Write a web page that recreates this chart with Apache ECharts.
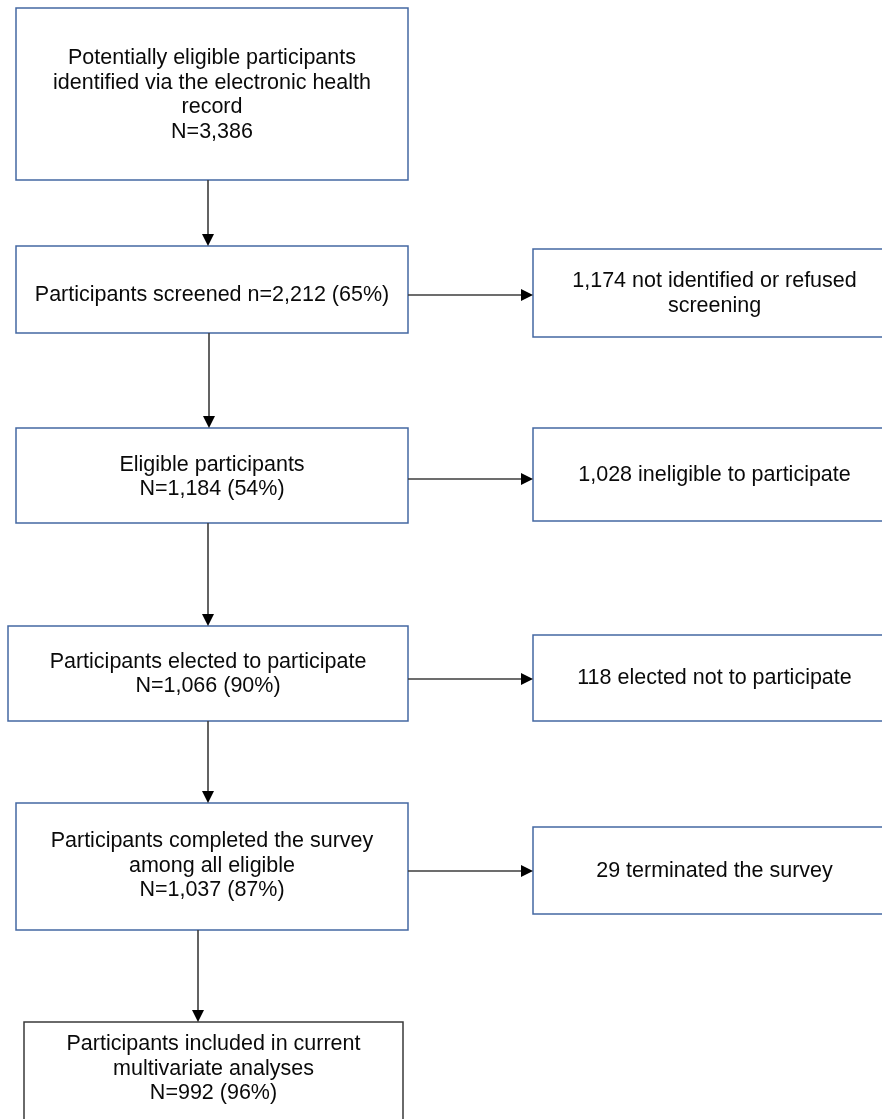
<!DOCTYPE html>
<html>
<head>
<meta charset="utf-8">
<script src="https://cdn.jsdelivr.net/npm/echarts@6/dist/echarts.min.js"></script>
<style>
  html, body { margin: 0; padding: 0; background: #ffffff; }
  #chart { width: 882px; height: 1119px; }
</style>
</head>
<body>
<div id="chart"></div>
<script>
// ---- data ----
const mainTitles = [
  "Potentially eligible participants\nidentified via the electronic health\nrecord",
  "Participants screened",
  "Eligible participants",
  "Participants elected to participate",
  "Participants completed the survey\namong all eligible",
  "Participants included in current\nmultivariate analyses"
];
const mainN = [3386, 2212, 1184, 1066, 1037, 992];
const mainNLetter = ["N", "n", "N", "N", "N", "N"];
const mainPct = [null, 65, 54, 90, 87, 96];
const sideN = [1174, 1028, 118, 29];
const sideText = [
  "not identified or refused\nscreening",
  "ineligible to participate",
  "elected not to participate",
  "terminated the survey"
];

// ---- layout (pixel units on hidden axes) ----
const mainBoxes = [
  [16, 8, 408, 180],
  [16, 246, 408, 333],
  [16, 428, 408, 523],
  [8, 626, 408, 721],
  [16, 803, 408, 930],
  [24, 1022, 403, 1130]
];
const mainTextY = [95, 295, 477, 674, 866, 1069];
const mainInline = [false, true, false, false, false, false];
const sideBoxes = [
  [533, 249, 896, 337],
  [533, 428, 896, 521],
  [533, 635, 896, 721],
  [533, 827, 896, 914]
];
const vArrowX = [208, 209, 208, 208, 198];
const hArrowY = [295, 479, 679, 871];

function fmt(n) { return n.toLocaleString('en-US'); }

function mainLabel(i) {
  let cnt = mainNLetter[i] + "=" + fmt(mainN[i]) + (mainPct[i] != null ? " (" + mainPct[i] + "%)" : "");
  return mainTitles[i] + (mainInline[i] ? " " : "\n") + cnt;
}
function sideLabel(i) {
  return fmt(sideN[i]) + " " + sideText[i];
}

const boxData = [];
mainBoxes.forEach((b, i) => boxData.push([b[0], b[1], b[2], b[3], mainTextY[i], mainLabel(i), i === 5 ? 1 : 0]));
sideBoxes.forEach((b, i) => boxData.push([b[0], b[1], b[2], b[3], (b[1] + b[3]) / 2 + 0.5, sideLabel(i), 0]));

// arrows: [x1, y1, x2, y2]
const arrowData = [];
for (let i = 0; i < vArrowX.length; i++) {
  arrowData.push([vArrowX[i], mainBoxes[i][3], vArrowX[i], mainBoxes[i + 1][1]]);
}
for (let i = 0; i < hArrowY.length; i++) {
  arrowData.push([mainBoxes[i + 1][2], hArrowY[i], sideBoxes[i][0], hArrowY[i]]);
}

const FONT = '"Liberation Sans", Arial, sans-serif';

const chart = echarts.init(document.getElementById('chart'), null, { renderer: 'canvas' });
chart.setOption({
  animation: false,
  backgroundColor: '#ffffff',
  grid: { left: 0, right: 0, top: 0, bottom: 0 },
  xAxis: { type: 'value', min: 0, max: 882, show: false },
  yAxis: { type: 'value', min: 0, max: 1119, inverse: true, show: false },
  series: [
    {
      type: 'custom',
      coordinateSystem: 'cartesian2d',
      data: boxData,
      encode: { x: [0, 2], y: [1, 3] },
      clip: false,
      renderItem: function (params, api) {
        const p0 = api.coord([api.value(0), api.value(1)]);
        const p1 = api.coord([api.value(2), api.value(3)]);
        const ty = api.coord([0, api.value(4)])[1];
        const dark = api.value(6) === 1;
        const label = boxData[params.dataIndex][5];
        return {
          type: 'group',
          children: [
            {
              type: 'rect',
              shape: { x: p0[0], y: p0[1], width: p1[0] - p0[0], height: p1[1] - p0[1] },
              style: { fill: '#ffffff', stroke: dark ? '#3a3a3a' : '#4468a2', lineWidth: 1.5 }
            },
            {
              type: 'text',
              x: (p0[0] + p1[0]) / 2,
              y: ty,
              style: {
                text: label,
                fill: '#0a0a0a',
                font: '21.5px ' + FONT,
                lineHeight: 24.5,
                align: 'center',
                verticalAlign: 'middle'
              }
            }
          ]
        };
      }
    },
    {
      type: 'custom',
      coordinateSystem: 'cartesian2d',
      data: arrowData,
      encode: { x: [0, 2], y: [1, 3] },
      clip: false,
      z: 3,
      renderItem: function (params, api) {
        const a = api.coord([api.value(0), api.value(1)]);
        const b = api.coord([api.value(2), api.value(3)]);
        const dx = b[0] - a[0], dy = b[1] - a[1];
        const len = Math.sqrt(dx * dx + dy * dy);
        const ux = dx / len, uy = dy / len;
        const hl = 12, hw = 6;
        const base = [b[0] - ux * hl, b[1] - uy * hl];
        const px = -uy, py = ux;
        return {
          type: 'group',
          children: [
            {
              type: 'line',
              shape: { x1: a[0], y1: a[1], x2: base[0], y2: base[1] },
              style: { stroke: '#3c3c3c', lineWidth: 1.6 }
            },
            {
              type: 'polygon',
              shape: { points: [[b[0], b[1]], [base[0] + px * hw, base[1] + py * hw], [base[0] - px * hw, base[1] - py * hw]] },
              style: { fill: '#000000' }
            }
          ]
        };
      }
    }
  ]
});
</script>
</body>
</html>
